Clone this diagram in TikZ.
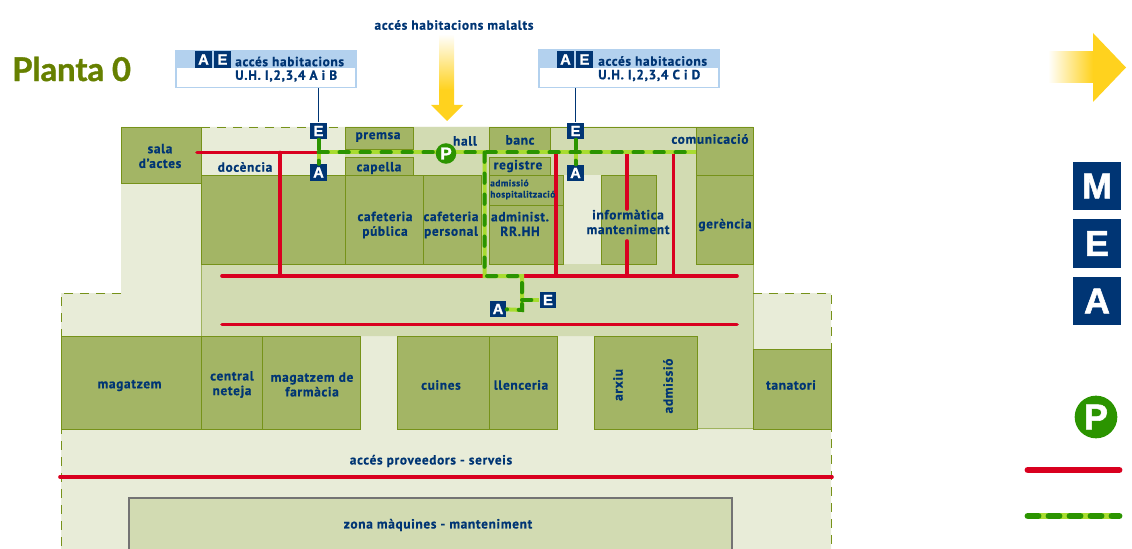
\documentclass[tikz,border=0pt]{standalone}
\usepackage{fontspec}
\setmainfont[LetterSpace=5,BoldFeatures={FakeBold=.5}]{PT Sans}
\newfontfamily\keyfont[BoldFeatures={FakeBold=1.5}]{Liberation Sans}
\newfontfamily\titlefont[BoldFeatures={FakeBold=1.2}]{Lato}

\definecolor{roomfill}{HTML}{A3B565}
\definecolor{roomline}{HTML}{769219}
\definecolor{hallfill}{HTML}{D2DBB2}
\definecolor{yardfill}{HTML}{E8ECD8}
\definecolor{inknavy}{HTML}{003574}
\definecolor{redway}{HTML}{D9001F}
\definecolor{routedark}{HTML}{2B9400}
\definecolor{routelime}{HTML}{A8DC30}
\definecolor{noteblue}{HTML}{B3D1EE}
\definecolor{titleolive}{HTML}{668000}
\definecolor{arrowyellow}{HTML}{FFD21E}

\tikzset{
  room/.style={fill=roomfill, draw=roomline, line width=.7pt},
  rlabel/.style={text=inknavy, font=\fontsize{10}{11}\selectfont\bfseries, align=center, inner sep=0pt},
  redline/.style={draw=redway, line width=2.7pt, line cap=round},
  routebase/.style={draw=routelime, line width=3pt},
  routedash/.style={draw=routedark, line width=3pt, line cap=round, dash pattern=on 7pt off 8.75pt},
  keybox/.style={fill=inknavy, text=white, inner sep=0pt, minimum size=12.6pt,
    font=\keyfont\bfseries\fontsize{11}{11}\selectfont},
  bigkey/.style={keybox, minimum size=36pt, font=\keyfont\bfseries\fontsize{27}{27}\selectfont},
  notebox/.style={draw=noteblue, line width=.9pt, fill=white, minimum width=135pt, minimum height=28pt, inner sep=0pt},
  bound/.style={draw=roomline, line width=.7pt, dash pattern=on 7pt off 5pt}
}

\begin{document}
\begin{tikzpicture}[x=.75pt, y=-.75pt]
  \useasboundingbox (0,0) rectangle (1132,549);

  % Grounds, halls and the spare room
  \fill[yardfill] (121,127) -- (753,127) -- (753,293) -- (831,293) -- (831,549) -- (61,549) -- (61,293) -- (121,293) -- cycle;
  \fill[hallfill] (345,127) -- (753,127) -- (753,429) -- (697,429) -- (697,336) -- (201,336) -- (201,264) -- (345,264) -- cycle;
  \fill[yardfill] (563,175) rectangle (601,264);
  \draw[roomline!70, line width=.7pt] (201,264) -- (201,336) (753,264) -- (753,349) (697,428.5) -- (753,428.5);
  \draw[roomline, line width=.7pt] (550,127) -- (753,127);

  % Dashed site boundary
  \draw[bound] (201,127) -- (345,127);
  \draw[bound] (121,293) -- (61,293) -- (61,549);
  \draw[bound] (753,293) -- (831,293) -- (831,549);

  % Rooms
  \draw[room] (121,127) rectangle (201,183);
  \draw[room] (345,127) rectangle (413,149);
  \draw[room] (345,157) rectangle (413,175);
  \draw[room] (489,127) rectangle (550,150);
  \draw[room] (489,157) rectangle (550,175);
  \draw[room] (201,175) rectangle (345,264);
  \draw[room] (345,175) rectangle (423,264);
  \draw[room] (423,175) rectangle (481,264);
  \draw[room] (489,175) rectangle (563,205);
  \draw[room] (489,205) rectangle (563,264);
  \draw[room] (601,175) rectangle (656,264);
  \draw[room] (696,127) rectangle (753,175);
  \draw[room] (696,175) rectangle (753,264);
  \draw[room] (61,336) rectangle (201,429);
  \draw[room] (201,336) rectangle (262,429);
  \draw[room] (262,336) rectangle (360,429);
  \draw[room] (397,336) rectangle (489,429);
  \draw[room] (489,336) rectangle (557,429);
  \draw[room] (594,336) rectangle (697,429);
  \draw[room] (753,349) rectangle (831,429);
  \draw[fill=hallfill, draw=black!55, line width=.9pt] (129,549) -- (129,498) -- (732,498) -- (732,549);

  % Red corridors
  \draw[redline] (197,152.5) -- (319,152.5);
  \draw[redline] (280,152.5) -- (280,276);
  \draw[redline] (222,276) -- (737,276);
  \draw[redline] (222,324.5) -- (737,324.5);
  \draw[redline] (556,152.5) -- (556,276);
  \draw[redline] (627,152.5) -- (627,209);
  \draw[redline] (627,241) -- (627,276);
  \draw[redline] (673.5,152.5) -- (673.5,276);
  \draw[redline] (60,477) -- (832,477);

  % Notes and lift keys
  \node[notebox] (noteab) at (266,69) {};
  \fill[noteblue] (176,50) rectangle (356,68);
  \node[notebox] (notecd) at (629,68.5) {};
  \fill[noteblue] (539,50) rectangle (719,68);
  \node[keybox] (keya1) at (203.5,59.5) {A};
  \node[keybox] (keye1) at (222.5,59.5) {E};
  \node[keybox] (keya2) at (565.5,59.5) {A};
  \node[keybox] (keye2) at (584.5,59.5) {E};
  \node[keybox] (liftab) at (318.5,131) {E};
  \node[keybox] (stairab) at (318.5,172.5) {A};
  \node[keybox] (liftcd) at (575.5,131) {E};
  \node[keybox] (staircd) at (575.5,173) {A};
  \node[keybox] (stairlow) at (498,309) {A};
  \node[keybox] (liftlow) at (548,300) {E};
  \draw[inknavy, line width=1.4pt] (noteab.south -| liftab.north) -- (liftab.north);
  \draw[inknavy, line width=1.4pt] (notecd.south -| liftcd.north) -- (liftcd.north);

  % Green route, lime under dark dashes
  \coordinate (crossab) at (318.5,152.5);
  \coordinate (crosshall) at (484.5,152.5);
  \coordinate (routeend) at (696,152.5);
  \coordinate (bendlow) at (484.5,276);
  \coordinate (bendright) at (522,276);
  \coordinate (bendstair) at (522,310);
  \coordinate (bendlift) at (522,300);
  \foreach \routestyle in {routebase,routedash} {
    \draw[\routestyle] (crossab) -- (routeend);
    \draw[\routestyle] (liftab) -- (stairab);
    \draw[\routestyle] (liftcd) -- (staircd);
    \draw[\routestyle] (crosshall) -- (bendlow) -- (bendright) -- (bendstair) -- (stairlow);
    \draw[\routestyle] (bendlift) -- (liftlow);
  }
  \node[circle, fill=routedark, text=white, minimum size=15.4pt, inner sep=0pt, font=\keyfont\bfseries\fontsize{13}{13}\selectfont] (parkhall) at (446,153.5) {P};

  % Arrow into the hall
  \shade[top color=white, bottom color=arrowyellow] (439,34) rectangle (454,90);
  \fill[arrowyellow] (439,90) -- (454,90) -- (454,105) -- (463,105) -- (447,121) -- (431,105) -- (439,105) -- cycle;

  % Title and upper texts
  \node[text=titleolive, font=\titlefont\bfseries\fontsize{24.5}{24.5}\selectfont, anchor=west, inner sep=0pt] (title) at (12,69) {Planta 0};
  \node[rlabel] (hallnote) at (454,25) {accés habitacions malalts};
  \node[rlabel, anchor=west] (notetxt1) at (235,61.5) {accés habitacions};
  \node[rlabel, anchor=west] (notesub1) at (235,76) {U.H. I,2,3,4 A i B};
  \node[rlabel, anchor=west] (notetxt2) at (598,61) {accés habitacions};
  \node[rlabel, anchor=west] (notesub2) at (598,75.5) {U.H. I,2,3,4 C i D};

  % Room names
  \node[rlabel] (sala) at (160,156) {sala\\d'actes};
  \node[rlabel] (docencia) at (245,167) {docència};
  \node[rlabel] (premsa) at (378,137) {premsa};
  \node[rlabel] (capella) at (379,168) {capella};
  \node[rlabel] (hall) at (465,141) {hall};
  \node[rlabel] (banc) at (520,140) {banc};
  \node[rlabel] (registre) at (518,166) {registre};
  \node[rlabel] (comunicacio) at (710,139) {comunicació};
  \node[rlabel, align=left, anchor=west, font=\fontsize{7}{8.4}\selectfont\bfseries] (admissiohosp) at (490,189.5) {admissió\\hospitalització};
  \node[rlabel] (administ) at (520,224) {administ.\\RR.HH};
  \node[rlabel] (cafepublica) at (385,225) {cafeteria\\pública};
  \node[rlabel] (cafepersonal) at (451,225) {cafeteria\\personal};
  \node[rlabel] (informatica) at (628,222) {informàtica\\manteniment};
  \node[rlabel] (gerencia) at (725,225) {gerència};
  \node[rlabel] (magatzem) at (129.5,385.5) {magatzem};
  \node[rlabel] (central) at (232,384.5) {central\\neteja};
  \node[rlabel] (farmacia) at (312,384.5) {magatzem de\\farmàcia};
  \node[rlabel] (cuines) at (441,385) {cuines};
  \node[rlabel] (llenceria) at (521,385) {llenceria};
  \node[rlabel, rotate=90] (arxiu) at (618,385) {arxiu};
  \node[rlabel, rotate=90] (admissio) at (668,386) {admissió};
  \node[rlabel] (tanatori) at (791,385) {tanatori};
  \node[rlabel] (proveedors) at (431,461) {accés proveedors - serveis};
  \node[rlabel] (maquines) at (438,525) {zona màquines - manteniment};

  % Legend
  \shade[left color=white, right color=arrowyellow] (1048,52) rectangle (1093,83);
  \fill[arrowyellow] (1093,33) -- (1126,67.5) -- (1093,102) -- cycle;
  \node[bigkey] (keym) at (1097,186) {M};
  \node[bigkey] (keye) at (1097,243.5) {E};
  \node[bigkey] (keya) at (1097,301) {A};
  \node[circle, fill=routedark, text=white, minimum size=32pt, inner sep=0pt, font=\keyfont\bfseries\fontsize{27}{27}\selectfont] (keyp) at (1096,417) {P};
  \coordinate (redstart) at (1028,470);
  \coordinate (redstop) at (1119,470);
  \coordinate (greenstart) at (1028,516);
  \coordinate (greenstop) at (1119,516);
  \draw[redline, line width=5.2pt] (redstart) -- (redstop);
  \draw[routebase, line width=5.2pt] (greenstart) -- (greenstop);
  \draw[routedash, line width=5.2pt, dash pattern=on 7.5pt off 8.25pt] (greenstart) -- (greenstop);
\end{tikzpicture}
\end{document}
